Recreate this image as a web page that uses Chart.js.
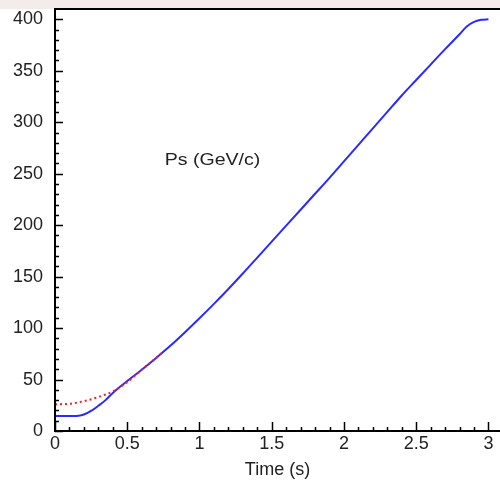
<!DOCTYPE html>
<html lang="en">
<head>
    <meta charset="UTF-8">
    <title>Ps vs Time</title>
    <script src="https://cdn.jsdelivr.net/npm/chart.js"></script>
    <style>
        html, body { margin: 0; padding: 0; background: #fff; }
        #wrap { width: 500px; height: 481px; }
    </style>
</head>
<body>
<div id="wrap"><canvas id="psChart"></canvas></div>

<script>
    // values
    const timeBlue = [0, 0.1, 0.15, 0.2, 0.25, 0.3, 0.35, 0.4, 0.45, 0.5, 0.6, 0.7, 0.8, 0.9, 1.0,
        1.1, 1.2, 1.3, 1.4, 1.5, 1.6, 1.7, 1.8, 1.9, 2.0, 2.1, 2.2, 2.3, 2.4, 2.5, 2.6, 2.7,
        2.8, 2.85, 2.9, 2.95, 3.0];
    const psBlue = [14.5, 14.5, 14.6, 16, 19.5, 24.5, 30, 37, 43, 48.5, 59.5, 71, 83, 96, 109.5,
        123.5, 138, 153, 168.5, 184, 199.5, 215, 230.5, 246, 262, 278, 294, 310, 326, 341, 356, 371,
        385.5, 393, 397.5, 399.5, 400];
    const timeRed = [0, 0.1, 0.2, 0.3, 0.4, 0.5, 0.6, 0.7, 0.75];
    const psRed = [26, 26.5, 29, 33, 38.5, 47.5, 59.5, 71, 77];

    const xTickValues = [0, 0.5, 1, 1.5, 2, 2.5, 3];
    const yTickValues = [0, 50, 100, 150, 200, 250, 300, 350, 400];
    const annotationText = 'Ps (GeV/c)';
    const xTitle = 'Time (s)';

    const toPoints = (xs, ys) => xs.map((x, i) => ({ x: x, y: ys[i] }));

    // background, frame, inward ticks and the curve label
    const decorations = {
        id: 'decorations',
        beforeDraw(chart) {
            const ctx = chart.ctx;
            ctx.save();
            ctx.fillStyle = '#ffffff';
            ctx.fillRect(0, 0, chart.width, chart.height);
            ctx.fillStyle = '#f4ecea';
            ctx.fillRect(0, 0, chart.width, chart.chartArea.top);
            ctx.restore();
        },
        afterDraw(chart) {
            const ctx = chart.ctx;
            const area = chart.chartArea;
            const xs = chart.scales.x;
            const ys = chart.scales.y;
            ctx.save();
            ctx.strokeStyle = '#000';
            ctx.lineWidth = 1.5;
            ctx.beginPath();
            // y ticks every 10, major every 50
            for (let v = 0; v <= 400; v += 10) {
                const py = Math.round(ys.getPixelForValue(v)) + 0.5;
                const len = v % 50 === 0 ? 8 : 4;
                ctx.moveTo(area.left, py);
                ctx.lineTo(area.left + len, py);
            }
            // x ticks every 0.1, major every 0.5
            for (let i = 0; i <= 30; i++) {
                const px = Math.round(xs.getPixelForValue(i / 10)) + 0.5;
                const len = i % 5 === 0 ? 9 : 4;
                ctx.moveTo(px, area.bottom);
                ctx.lineTo(px, area.bottom - len);
            }
            ctx.stroke();
            // axis frame
            ctx.lineWidth = 2;
            ctx.beginPath();
            ctx.moveTo(chart.width, area.top);
            ctx.lineTo(area.left, area.top);
            ctx.lineTo(area.left, area.bottom);
            ctx.lineTo(chart.width, area.bottom);
            ctx.stroke();
            // curve label
            ctx.fillStyle = '#222';
            ctx.font = '17px "Liberation Sans", Arial, sans-serif';
            ctx.textAlign = 'center';
            ctx.textBaseline = 'middle';
            ctx.translate(xs.getPixelForValue(1.09), ys.getPixelForValue(263));
            ctx.scale(1.15, 1);
            ctx.fillText(annotationText, 0, 0);
            ctx.restore();
        }
    };

    const tickFont = { family: '"Liberation Sans", Arial, sans-serif', size: 18 };

    new Chart(document.getElementById('psChart').getContext('2d'), {
        type: 'scatter',
        data: {
            datasets: [{
                label: 'Ps ramp',
                data: toPoints(timeBlue, psBlue),
                showLine: true,
                borderColor: '#2a2aff',
                borderWidth: 2,
                pointRadius: 0,
                cubicInterpolationMode: 'monotone',
                order: 2
            }, {
                label: 'Ps (dotted)',
                data: toPoints(timeRed, psRed),
                showLine: true,
                borderColor: '#ff1a1a',
                borderWidth: 2,
                borderDash: [2, 3],
                pointRadius: 0,
                cubicInterpolationMode: 'monotone',
                order: 1
            }]
        },
        options: {
            responsive: true,
            maintainAspectRatio: false,
            animation: false,
            layout: { padding: { top: 9, right: 0, left: 0, bottom: 0 } },
            plugins: {
                legend: { display: false },
                tooltip: { enabled: false }
            },
            scales: {
                x: {
                    type: 'linear',
                    min: 0,
                    max: 3.08,
                    afterBuildTicks: s => { s.ticks = xTickValues.map(v => ({ value: v })); },
                    afterFit: s => { s.height = 50; s.paddingLeft = 0; s.paddingRight = 0; },
                    grid: { display: false, drawTicks: false },
                    border: { display: false },
                    ticks: {
                        color: '#222',
                        font: tickFont,
                        padding: 2,
                        maxRotation: 0,
                        autoSkip: false,
                        callback: v => String(v)
                    },
                    title: {
                        display: true,
                        text: xTitle,
                        color: '#222',
                        font: tickFont,
                        padding: { top: 2, bottom: 0 }
                    }
                },
                y: {
                    min: 0,
                    max: 410,
                    afterBuildTicks: s => { s.ticks = yTickValues.map(v => ({ value: v })); },
                    afterFit: s => { s.width = 55; s.paddingTop = 0; s.paddingBottom = 0; },
                    grid: { display: false, drawTicks: false },
                    border: { display: false },
                    ticks: {
                        color: '#222',
                        font: tickFont,
                        padding: 12,
                        autoSkip: false,
                        callback: v => String(v)
                    }
                }
            }
        },
        plugins: [decorations]
    });
</script>
</body>
</html>
